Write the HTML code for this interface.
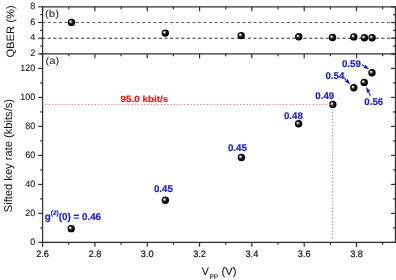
<!DOCTYPE html>
<html><head><meta charset="utf-8"><style>
html,body{margin:0;padding:0;background:#fff;}
svg{display:block;font-family:"Liberation Sans",sans-serif;text-rendering:geometricPrecision;filter:blur(0.3px);}
</style></head><body>
<svg width="396" height="280" viewBox="0 0 396 280">
<defs>
<radialGradient id="ball" cx="0.5" cy="0.5" r="0.5" fx="0.32" fy="0.34">
<stop offset="0" stop-color="#ffffff"/>
<stop offset="0.16" stop-color="#e6e6e6"/>
<stop offset="0.42" stop-color="#3a3a3a"/>
<stop offset="0.68" stop-color="#060606"/>
<stop offset="1" stop-color="#000"/>
</radialGradient>
</defs>
<rect width="396" height="280" fill="#fff"/>
<line x1="42.20" y1="22.52" x2="395.45" y2="22.52" stroke="#5c5c5c" stroke-width="1.0" stroke-dasharray="3.1 2.46"/>
<line x1="42.20" y1="38.23" x2="395.45" y2="38.23" stroke="#2c2c2c" stroke-width="1.0" stroke-dasharray="3.1 2.46"/>
<line x1="42.60" y1="6.80" x2="395.45" y2="6.80" stroke="#2e2e2e" stroke-width="1.2" />
<line x1="42.60" y1="53.95" x2="395.45" y2="53.95" stroke="#2e2e2e" stroke-width="1.2" />
<line x1="42.60" y1="242.40" x2="395.45" y2="242.40" stroke="#2e2e2e" stroke-width="1.2" />
<line x1="42.60" y1="6.20" x2="42.60" y2="243.00" stroke="#2e2e2e" stroke-width="1.2" />
<line x1="395.45" y1="6.20" x2="395.45" y2="243.00" stroke="#2e2e2e" stroke-width="1.2" />
<line x1="42.60" y1="242.40" x2="42.60" y2="246.80" stroke="#2e2e2e" stroke-width="1.2" />
<line x1="42.60" y1="53.95" x2="42.60" y2="58.35" stroke="#2e2e2e" stroke-width="1.2" />
<line x1="42.60" y1="6.80" x2="42.60" y2="11.20" stroke="#2e2e2e" stroke-width="1.2" />
<line x1="68.76" y1="242.40" x2="68.76" y2="244.80" stroke="#2e2e2e" stroke-width="1.2" />
<line x1="68.76" y1="53.95" x2="68.76" y2="56.35" stroke="#2e2e2e" stroke-width="1.2" />
<line x1="68.76" y1="6.80" x2="68.76" y2="9.20" stroke="#2e2e2e" stroke-width="1.2" />
<line x1="94.92" y1="242.40" x2="94.92" y2="246.80" stroke="#2e2e2e" stroke-width="1.2" />
<line x1="94.92" y1="53.95" x2="94.92" y2="58.35" stroke="#2e2e2e" stroke-width="1.2" />
<line x1="94.92" y1="6.80" x2="94.92" y2="11.20" stroke="#2e2e2e" stroke-width="1.2" />
<line x1="121.08" y1="242.40" x2="121.08" y2="244.80" stroke="#2e2e2e" stroke-width="1.2" />
<line x1="121.08" y1="53.95" x2="121.08" y2="56.35" stroke="#2e2e2e" stroke-width="1.2" />
<line x1="121.08" y1="6.80" x2="121.08" y2="9.20" stroke="#2e2e2e" stroke-width="1.2" />
<line x1="147.24" y1="242.40" x2="147.24" y2="246.80" stroke="#2e2e2e" stroke-width="1.2" />
<line x1="147.24" y1="53.95" x2="147.24" y2="58.35" stroke="#2e2e2e" stroke-width="1.2" />
<line x1="147.24" y1="6.80" x2="147.24" y2="11.20" stroke="#2e2e2e" stroke-width="1.2" />
<line x1="173.40" y1="242.40" x2="173.40" y2="244.80" stroke="#2e2e2e" stroke-width="1.2" />
<line x1="173.40" y1="53.95" x2="173.40" y2="56.35" stroke="#2e2e2e" stroke-width="1.2" />
<line x1="173.40" y1="6.80" x2="173.40" y2="9.20" stroke="#2e2e2e" stroke-width="1.2" />
<line x1="199.56" y1="242.40" x2="199.56" y2="246.80" stroke="#2e2e2e" stroke-width="1.2" />
<line x1="199.56" y1="53.95" x2="199.56" y2="58.35" stroke="#2e2e2e" stroke-width="1.2" />
<line x1="199.56" y1="6.80" x2="199.56" y2="11.20" stroke="#2e2e2e" stroke-width="1.2" />
<line x1="225.72" y1="242.40" x2="225.72" y2="244.80" stroke="#2e2e2e" stroke-width="1.2" />
<line x1="225.72" y1="53.95" x2="225.72" y2="56.35" stroke="#2e2e2e" stroke-width="1.2" />
<line x1="225.72" y1="6.80" x2="225.72" y2="9.20" stroke="#2e2e2e" stroke-width="1.2" />
<line x1="251.88" y1="242.40" x2="251.88" y2="246.80" stroke="#2e2e2e" stroke-width="1.2" />
<line x1="251.88" y1="53.95" x2="251.88" y2="58.35" stroke="#2e2e2e" stroke-width="1.2" />
<line x1="251.88" y1="6.80" x2="251.88" y2="11.20" stroke="#2e2e2e" stroke-width="1.2" />
<line x1="278.04" y1="242.40" x2="278.04" y2="244.80" stroke="#2e2e2e" stroke-width="1.2" />
<line x1="278.04" y1="53.95" x2="278.04" y2="56.35" stroke="#2e2e2e" stroke-width="1.2" />
<line x1="278.04" y1="6.80" x2="278.04" y2="9.20" stroke="#2e2e2e" stroke-width="1.2" />
<line x1="304.20" y1="242.40" x2="304.20" y2="246.80" stroke="#2e2e2e" stroke-width="1.2" />
<line x1="304.20" y1="53.95" x2="304.20" y2="58.35" stroke="#2e2e2e" stroke-width="1.2" />
<line x1="304.20" y1="6.80" x2="304.20" y2="11.20" stroke="#2e2e2e" stroke-width="1.2" />
<line x1="330.36" y1="242.40" x2="330.36" y2="244.80" stroke="#2e2e2e" stroke-width="1.2" />
<line x1="330.36" y1="53.95" x2="330.36" y2="56.35" stroke="#2e2e2e" stroke-width="1.2" />
<line x1="330.36" y1="6.80" x2="330.36" y2="9.20" stroke="#2e2e2e" stroke-width="1.2" />
<line x1="356.52" y1="242.40" x2="356.52" y2="246.80" stroke="#2e2e2e" stroke-width="1.2" />
<line x1="356.52" y1="53.95" x2="356.52" y2="58.35" stroke="#2e2e2e" stroke-width="1.2" />
<line x1="356.52" y1="6.80" x2="356.52" y2="11.20" stroke="#2e2e2e" stroke-width="1.2" />
<line x1="382.68" y1="242.40" x2="382.68" y2="244.80" stroke="#2e2e2e" stroke-width="1.2" />
<line x1="382.68" y1="53.95" x2="382.68" y2="56.35" stroke="#2e2e2e" stroke-width="1.2" />
<line x1="382.68" y1="6.80" x2="382.68" y2="9.20" stroke="#2e2e2e" stroke-width="1.2" />
<line x1="38.20" y1="53.95" x2="42.60" y2="53.95" stroke="#2e2e2e" stroke-width="1.2" />
<line x1="391.05" y1="53.95" x2="395.45" y2="53.95" stroke="#2e2e2e" stroke-width="1.2" />
<line x1="40.20" y1="46.09" x2="42.60" y2="46.09" stroke="#2e2e2e" stroke-width="1.2" />
<line x1="393.05" y1="46.09" x2="395.45" y2="46.09" stroke="#2e2e2e" stroke-width="1.2" />
<line x1="38.20" y1="38.23" x2="42.60" y2="38.23" stroke="#2e2e2e" stroke-width="1.2" />
<line x1="391.05" y1="38.23" x2="395.45" y2="38.23" stroke="#2e2e2e" stroke-width="1.2" />
<line x1="40.20" y1="30.38" x2="42.60" y2="30.38" stroke="#2e2e2e" stroke-width="1.2" />
<line x1="393.05" y1="30.38" x2="395.45" y2="30.38" stroke="#2e2e2e" stroke-width="1.2" />
<line x1="38.20" y1="22.52" x2="42.60" y2="22.52" stroke="#2e2e2e" stroke-width="1.2" />
<line x1="391.05" y1="22.52" x2="395.45" y2="22.52" stroke="#2e2e2e" stroke-width="1.2" />
<line x1="40.20" y1="14.66" x2="42.60" y2="14.66" stroke="#2e2e2e" stroke-width="1.2" />
<line x1="393.05" y1="14.66" x2="395.45" y2="14.66" stroke="#2e2e2e" stroke-width="1.2" />
<line x1="38.20" y1="6.80" x2="42.60" y2="6.80" stroke="#2e2e2e" stroke-width="1.2" />
<line x1="391.05" y1="6.80" x2="395.45" y2="6.80" stroke="#2e2e2e" stroke-width="1.2" />
<line x1="38.20" y1="242.40" x2="42.60" y2="242.40" stroke="#2e2e2e" stroke-width="1.2" />
<line x1="391.05" y1="242.40" x2="395.45" y2="242.40" stroke="#2e2e2e" stroke-width="1.2" />
<line x1="40.20" y1="227.90" x2="42.60" y2="227.90" stroke="#2e2e2e" stroke-width="1.2" />
<line x1="393.05" y1="227.90" x2="395.45" y2="227.90" stroke="#2e2e2e" stroke-width="1.2" />
<line x1="38.20" y1="213.41" x2="42.60" y2="213.41" stroke="#2e2e2e" stroke-width="1.2" />
<line x1="391.05" y1="213.41" x2="395.45" y2="213.41" stroke="#2e2e2e" stroke-width="1.2" />
<line x1="40.20" y1="198.91" x2="42.60" y2="198.91" stroke="#2e2e2e" stroke-width="1.2" />
<line x1="393.05" y1="198.91" x2="395.45" y2="198.91" stroke="#2e2e2e" stroke-width="1.2" />
<line x1="38.20" y1="184.42" x2="42.60" y2="184.42" stroke="#2e2e2e" stroke-width="1.2" />
<line x1="391.05" y1="184.42" x2="395.45" y2="184.42" stroke="#2e2e2e" stroke-width="1.2" />
<line x1="40.20" y1="169.92" x2="42.60" y2="169.92" stroke="#2e2e2e" stroke-width="1.2" />
<line x1="393.05" y1="169.92" x2="395.45" y2="169.92" stroke="#2e2e2e" stroke-width="1.2" />
<line x1="38.20" y1="155.42" x2="42.60" y2="155.42" stroke="#2e2e2e" stroke-width="1.2" />
<line x1="391.05" y1="155.42" x2="395.45" y2="155.42" stroke="#2e2e2e" stroke-width="1.2" />
<line x1="40.20" y1="140.93" x2="42.60" y2="140.93" stroke="#2e2e2e" stroke-width="1.2" />
<line x1="393.05" y1="140.93" x2="395.45" y2="140.93" stroke="#2e2e2e" stroke-width="1.2" />
<line x1="38.20" y1="126.43" x2="42.60" y2="126.43" stroke="#2e2e2e" stroke-width="1.2" />
<line x1="391.05" y1="126.43" x2="395.45" y2="126.43" stroke="#2e2e2e" stroke-width="1.2" />
<line x1="40.20" y1="111.93" x2="42.60" y2="111.93" stroke="#2e2e2e" stroke-width="1.2" />
<line x1="393.05" y1="111.93" x2="395.45" y2="111.93" stroke="#2e2e2e" stroke-width="1.2" />
<line x1="38.20" y1="97.44" x2="42.60" y2="97.44" stroke="#2e2e2e" stroke-width="1.2" />
<line x1="391.05" y1="97.44" x2="395.45" y2="97.44" stroke="#2e2e2e" stroke-width="1.2" />
<line x1="40.20" y1="82.94" x2="42.60" y2="82.94" stroke="#2e2e2e" stroke-width="1.2" />
<line x1="393.05" y1="82.94" x2="395.45" y2="82.94" stroke="#2e2e2e" stroke-width="1.2" />
<line x1="38.20" y1="68.45" x2="42.60" y2="68.45" stroke="#2e2e2e" stroke-width="1.2" />
<line x1="391.05" y1="68.45" x2="395.45" y2="68.45" stroke="#2e2e2e" stroke-width="1.2" />
<line x1="40.20" y1="53.95" x2="42.60" y2="53.95" stroke="#2e2e2e" stroke-width="1.2" />
<line x1="393.05" y1="53.95" x2="395.45" y2="53.95" stroke="#2e2e2e" stroke-width="1.2" />
<text transform="translate(42.60,256.80) scale(1.0,1.02)" text-anchor="middle" font-size="9.2" fill="#151515" stroke="#151515" stroke-width="0.2">2.6</text>
<text transform="translate(94.92,256.80) scale(1.0,1.02)" text-anchor="middle" font-size="9.2" fill="#151515" stroke="#151515" stroke-width="0.2">2.8</text>
<text transform="translate(147.24,256.80) scale(1.0,1.02)" text-anchor="middle" font-size="9.2" fill="#151515" stroke="#151515" stroke-width="0.2">3.0</text>
<text transform="translate(199.56,256.80) scale(1.0,1.02)" text-anchor="middle" font-size="9.2" fill="#151515" stroke="#151515" stroke-width="0.2">3.2</text>
<text transform="translate(251.88,256.80) scale(1.0,1.02)" text-anchor="middle" font-size="9.2" fill="#151515" stroke="#151515" stroke-width="0.2">3.4</text>
<text transform="translate(304.20,256.80) scale(1.0,1.02)" text-anchor="middle" font-size="9.2" fill="#151515" stroke="#151515" stroke-width="0.2">3.6</text>
<text transform="translate(356.52,256.80) scale(1.0,1.02)" text-anchor="middle" font-size="9.2" fill="#151515" stroke="#151515" stroke-width="0.2">3.8</text>
<text transform="translate(35.20,244.65) scale(1.0,1.02)" text-anchor="end" font-size="9.0" fill="#151515" stroke="#151515" stroke-width="0.1">0</text>
<text transform="translate(35.20,215.66) scale(1.0,1.02)" text-anchor="end" font-size="9.0" fill="#151515" stroke="#151515" stroke-width="0.1">20</text>
<text transform="translate(35.20,186.67) scale(1.0,1.02)" text-anchor="end" font-size="9.0" fill="#151515" stroke="#151515" stroke-width="0.1">40</text>
<text transform="translate(35.20,157.67) scale(1.0,1.02)" text-anchor="end" font-size="9.0" fill="#151515" stroke="#151515" stroke-width="0.1">60</text>
<text transform="translate(35.20,128.68) scale(1.0,1.02)" text-anchor="end" font-size="9.0" fill="#151515" stroke="#151515" stroke-width="0.1">80</text>
<text transform="translate(35.20,99.69) scale(1.0,1.02)" text-anchor="end" font-size="9.0" fill="#151515" stroke="#151515" stroke-width="0.1">100</text>
<text transform="translate(35.20,70.70) scale(1.0,1.02)" text-anchor="end" font-size="9.0" fill="#151515" stroke="#151515" stroke-width="0.1">120</text>
<text transform="translate(35.20,56.20) scale(1.0,1.02)" text-anchor="end" font-size="9.0" fill="#151515" stroke="#151515" stroke-width="0.1">2</text>
<text transform="translate(35.20,40.48) scale(1.0,1.02)" text-anchor="end" font-size="9.0" fill="#151515" stroke="#151515" stroke-width="0.1">4</text>
<text transform="translate(35.20,24.77) scale(1.0,1.02)" text-anchor="end" font-size="9.0" fill="#151515" stroke="#151515" stroke-width="0.1">6</text>
<text transform="translate(35.20,9.05) scale(1.0,1.02)" text-anchor="end" font-size="9.0" fill="#151515" stroke="#151515" stroke-width="0.1">8</text>
<text transform="translate(45.00,17.10) scale(1.09,0.96)" text-anchor="start" font-size="10.5" fill="#151515">(b)</text>
<text transform="translate(45.50,64.10) scale(1.08,0.97)" text-anchor="start" font-size="10.5" fill="#151515">(a)</text>
<text transform="translate(13.50,31.50) rotate(-90) scale(1.0,0.96)" text-anchor="middle" font-size="11.2" fill="#151515" stroke="#151515" stroke-width="0.05">QBER (%)</text>
<text transform="translate(12.40,155.60) rotate(-90)" text-anchor="middle" font-size="11.15" fill="#151515" stroke="#151515" stroke-width="0.05">Sifted key rate (kbits/s)</text>
<text transform="translate(201.80,274.70) scale(0.98,1.0)" text-anchor="start" font-size="10.9" fill="#151515" stroke="#151515" stroke-width="0.1">V</text>
<text transform="translate(209.40,278.80) scale(0.95,1.0)" text-anchor="start" font-size="6.9" fill="#151515" stroke="#151515" stroke-width="0.1">PP</text>
<text transform="translate(221.50,274.70) scale(1.03,1.0)" text-anchor="start" font-size="10.9" fill="#151515" stroke="#151515" stroke-width="0.1">(V)</text>
<circle cx="71.50" cy="22.40" r="3.7" fill="url(#ball)"/>
<circle cx="165.30" cy="33.10" r="3.7" fill="url(#ball)"/>
<circle cx="241.20" cy="35.60" r="3.7" fill="url(#ball)"/>
<circle cx="298.80" cy="36.80" r="3.7" fill="url(#ball)"/>
<circle cx="332.50" cy="37.50" r="3.7" fill="url(#ball)"/>
<circle cx="353.80" cy="36.90" r="3.7" fill="url(#ball)"/>
<circle cx="364.40" cy="37.70" r="3.7" fill="url(#ball)"/>
<circle cx="372.10" cy="37.70" r="3.7" fill="url(#ball)"/>
<circle cx="71.20" cy="228.65" r="3.7" fill="url(#ball)"/>
<circle cx="165.35" cy="200.20" r="3.7" fill="url(#ball)"/>
<circle cx="241.40" cy="157.50" r="3.7" fill="url(#ball)"/>
<circle cx="298.60" cy="123.80" r="3.7" fill="url(#ball)"/>
<circle cx="332.80" cy="104.40" r="3.7" fill="url(#ball)"/>
<circle cx="353.80" cy="87.80" r="3.7" fill="url(#ball)"/>
<circle cx="364.20" cy="82.40" r="3.7" fill="url(#ball)"/>
<circle cx="372.00" cy="72.70" r="3.7" fill="url(#ball)"/>
<line x1="45.20" y1="104.60" x2="332.60" y2="104.60" stroke="#e67474" stroke-width="1.0" stroke-dasharray="1.3 2.0"/>
<line x1="332.60" y1="238.55" x2="332.60" y2="104.60" stroke="#e67474" stroke-width="1.0" stroke-dasharray="1.3 2.0"/>
<text transform="translate(44.70,219.90) scale(0.985,1.0)" text-anchor="start" font-size="10" fill="#1f1fb8" font-weight="bold" stroke="#1f1fb8" stroke-width="0.2">g<tspan font-size="6.6" dy="-5.3">(2)</tspan><tspan dy="5.3">(0) = 0.46</tspan></text>
<text transform="translate(163.35,192.00) scale(0.97,0.97)" text-anchor="middle" font-size="10" fill="#1f1fb8" font-weight="bold" stroke="#1f1fb8" stroke-width="0.2">0.45</text>
<text transform="translate(237.35,150.80) scale(0.97,0.97)" text-anchor="middle" font-size="10" fill="#1f1fb8" font-weight="bold" stroke="#1f1fb8" stroke-width="0.2">0.45</text>
<text transform="translate(293.40,118.70) scale(0.97,0.97)" text-anchor="middle" font-size="10" fill="#1f1fb8" font-weight="bold" stroke="#1f1fb8" stroke-width="0.2">0.48</text>
<text transform="translate(324.80,98.90) scale(0.97,0.97)" text-anchor="middle" font-size="10" fill="#1f1fb8" font-weight="bold" stroke="#1f1fb8" stroke-width="0.2">0.49</text>
<text transform="translate(334.85,78.60) scale(0.97,0.97)" text-anchor="middle" font-size="10" fill="#1f1fb8" font-weight="bold" stroke="#1f1fb8" stroke-width="0.2">0.54</text>
<text transform="translate(351.35,66.80) scale(0.97,0.97)" text-anchor="middle" font-size="10" fill="#1f1fb8" font-weight="bold" stroke="#1f1fb8" stroke-width="0.2">0.59</text>
<text transform="translate(373.80,104.60) scale(0.97,0.97)" text-anchor="middle" font-size="10" fill="#1f1fb8" font-weight="bold" stroke="#1f1fb8" stroke-width="0.2">0.56</text>
<text transform="translate(120.60,102.30) scale(0.985,0.9)" text-anchor="start" font-size="10" fill="#d82020" font-weight="bold" stroke="#d82020" stroke-width="0.2">95.0 kbit/s</text>
<line x1="362.00" y1="64.80" x2="364.51" y2="66.33" stroke="#1f1fb8" stroke-width="1.1"/>
<polygon points="369.20,69.20 363.46,68.04 365.55,64.63" fill="#1f1fb8"/>
<line x1="344.20" y1="78.20" x2="346.34" y2="80.38" stroke="#1f1fb8" stroke-width="1.1"/>
<polygon points="350.20,84.30 344.92,81.78 347.77,78.98" fill="#1f1fb8"/>
<line x1="370.50" y1="95.70" x2="368.66" y2="92.02" stroke="#1f1fb8" stroke-width="1.1"/>
<polygon points="366.20,87.10 370.45,91.12 366.87,92.91" fill="#1f1fb8"/>
</svg>
</body></html>
